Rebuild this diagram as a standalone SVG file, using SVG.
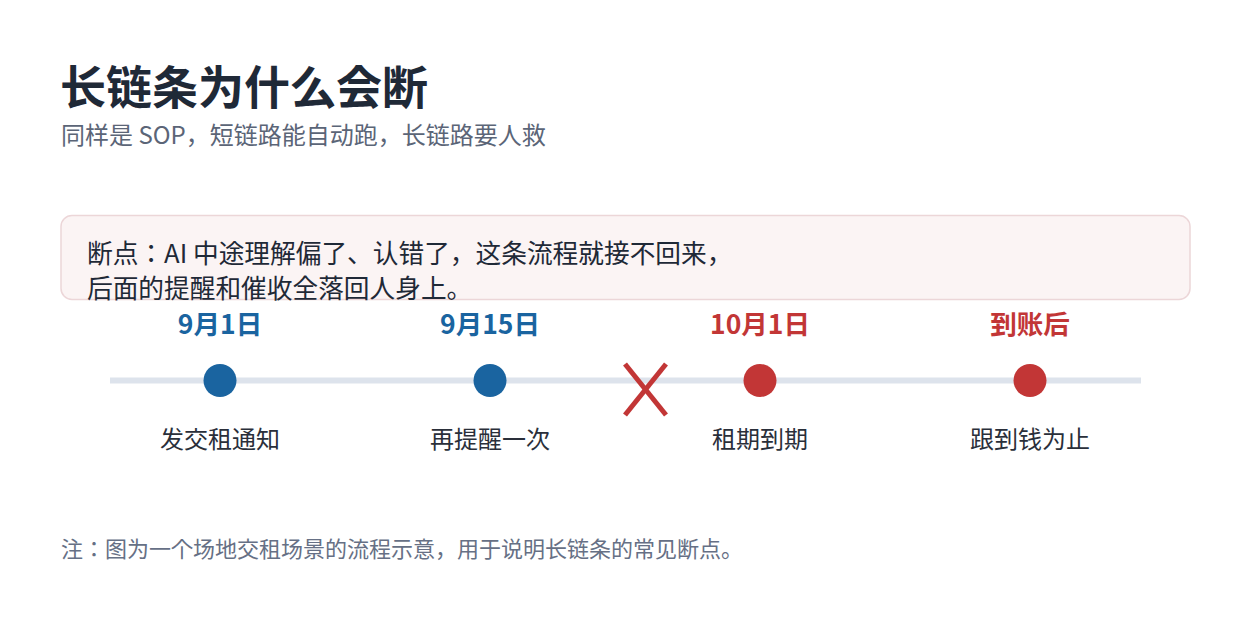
<svg xmlns="http://www.w3.org/2000/svg" width="1250" height="640" viewBox="0 0 1250 640">
  <style>
    text { font-family: "Noto Sans CJK JP", "Noto Sans CJK SC", "Noto Sans", sans-serif; }
    .title { font-size: 46px; font-weight: 700; fill: #1f2937; }
    .sub { font-size: 24px; fill: #5b6577; }
    .callout { font-size: 25.7px; fill: #1f2937; }
    .date { font-size: 26.5px; font-weight: 700; text-anchor: middle; }
    .blue { fill: #1a64a0; }
    .red { fill: #c23636; }
    .label { font-size: 24px; fill: #2a2f3a; text-anchor: middle; }
    .note { font-size: 22px; fill: #667085; }
  </style>
  <rect width="1250" height="640" fill="#ffffff"/>
  <g id="header">
    <text class="title" x="60" y="104">长链条为什么会断</text>
    <text class="sub" x="61" y="144">同样是 SOP，短链路能自动跑，长链路要人救</text>
  </g>
  <g id="callout">
    <rect x="61" y="215.5" width="1129" height="84" rx="11" fill="#fbf4f4" stroke="#ecd6d8" stroke-width="1.5"/>
    <text class="callout" x="87" y="263">断点：AI 中途理解偏了、认错了，这条流程就接不回来，</text>
    <text class="callout" x="87" y="298">后面的提醒和催收全落回人身上。</text>
  </g>
  <g id="connectors">
    <line x1="110" y1="380.5" x2="1141" y2="380.5" stroke="#dde3ec" stroke-width="6"/>
  </g>
  <g id="break-mark">
    <line x1="625" y1="364" x2="666" y2="415" stroke="#c23636" stroke-width="5"/>
    <line x1="666" y1="364" x2="625" y2="415" stroke="#c23636" stroke-width="5"/>
  </g>
  <g id="node-1">
    <text class="date blue" x="220" y="334">9月1日</text>
    <circle cx="220" cy="380.5" r="16.5" fill="#1a64a0"/>
    <text class="label" x="220" y="448">发交租通知</text>
  </g>
  <g id="node-2">
    <text class="date blue" x="490" y="334">9月15日</text>
    <circle cx="490" cy="380.5" r="16.5" fill="#1a64a0"/>
    <text class="label" x="490" y="448">再提醒一次</text>
  </g>
  <g id="node-3">
    <text class="date red" x="760" y="334">10月1日</text>
    <circle cx="760" cy="380.5" r="16.5" fill="#c23636"/>
    <text class="label" x="760" y="448">租期到期</text>
  </g>
  <g id="node-4">
    <text class="date red" x="1030" y="334">到账后</text>
    <circle cx="1030" cy="380.5" r="16.5" fill="#c23636"/>
    <text class="label" x="1030" y="448">跟到钱为止</text>
  </g>
  <g id="footnote">
    <text class="note" x="61" y="557">注：图为一个场地交租场景的流程示意，用于说明长链条的常见断点。</text>
  </g>
</svg>
